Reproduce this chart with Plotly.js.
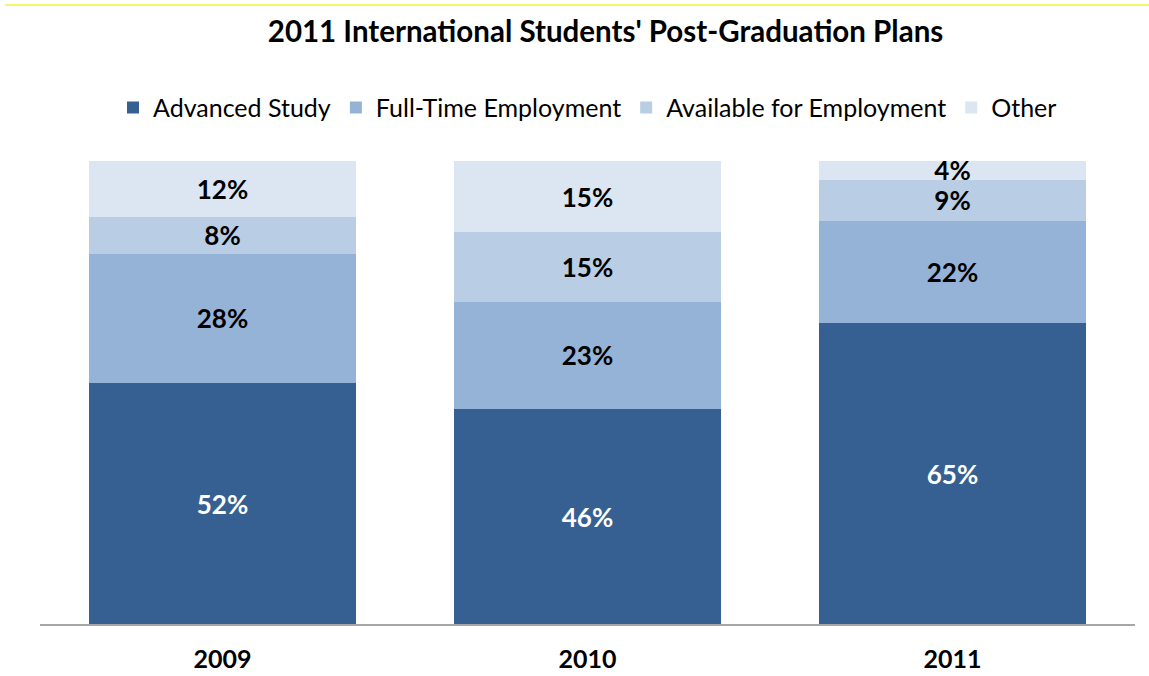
<!DOCTYPE html>
<html>
<head>
<meta charset="utf-8">
<script src="https://cdn.plot.ly/plotly-3.0.1.min.js"></script>
<style>html,body{margin:0;padding:0;background:#fff;}#chart{width:1149px;height:676px;}</style>
</head>
<body>
<div id="chart"></div>
<script>
const years = ['2009', '2010', '2011'];
const advancedStudy = [52, 46.4, 65];
const fullTimeEmployment = [28, 23.2, 22];
const availableForEmployment = [8, 15.0, 9];
const other = [12, 15.4, 4];

const seriesNames = ['Advanced Study', 'Full-Time Employment', 'Available for Employment', 'Other'];
const seriesValues = [advancedStudy, fullTimeEmployment, availableForEmployment, other];
const seriesColors = ['#376092', '#95B3D7', '#B9CDE5', '#DCE6F2'];
const labelColors = ['#FFFFFF', '#000000', '#000000', '#000000'];

const FONT = 'Lato, "Open Sans", sans-serif';

const traces = seriesNames.map((name, i) => ({
  type: 'bar',
  name: name,
  x: years,
  y: seriesValues[i],
  marker: {color: seriesColors[i], line: {width: 0}},
  texttemplate: '%{y:.0f}%',
  textposition: 'inside',
  insidetextanchor: 'middle',
  constraintext: 'none',
  textangle: 0,
  textfont: {family: FONT, size: 26, color: labelColors[i], weight: 'bold'},
  hoverinfo: 'skip'
}));

const layout = {
  width: 1149,
  height: 676,
  margin: {l: 40, r: 14, t: 161, b: 52},
  paper_bgcolor: '#ffffff',
  plot_bgcolor: '#ffffff',
  barmode: 'stack',
  bargap: 0.266,
  showlegend: true,
  title: {
    text: "2011 International Students' Post-Graduation Plans",
    font: {family: FONT, size: 29.5, color: '#000000', weight: 'bold'},
    x: 0.527, xanchor: 'center', xref: 'container',
    y: 0.953, yanchor: 'middle', yref: 'container'
  },
  legend: {
    orientation: 'h',
    x: 0.5, xanchor: 'center',
    y: 1.115, yanchor: 'middle',
    traceorder: 'normal',
    font: {family: FONT, size: 25, color: '#000000'},
    itemclick: false, itemdoubleclick: false
  },
  xaxis: {
    type: 'category',
    showgrid: false,
    zeroline: false,
    showline: true,
    linecolor: '#A6A6A6',
    linewidth: 2,
    ticks: '',
    ticklabelstandoff: 12,
    tickfont: {family: FONT, size: 25, color: '#000000', weight: 'bold'},
    fixedrange: true
  },
  yaxis: {
    range: [0, 100],
    visible: false,
    showgrid: false,
    zeroline: false,
    fixedrange: true
  },
  shapes: [{
    type: 'line', xref: 'paper', yref: 'paper',
    x0: -0.032, x1: 1.02, y0: 1.337, y1: 1.337,
    line: {color: '#F5F03A', width: 1.5}
  }]
};

Plotly.newPlot('chart', traces, layout, {displayModeBar: false, staticPlot: true});
</script>
</body>
</html>
